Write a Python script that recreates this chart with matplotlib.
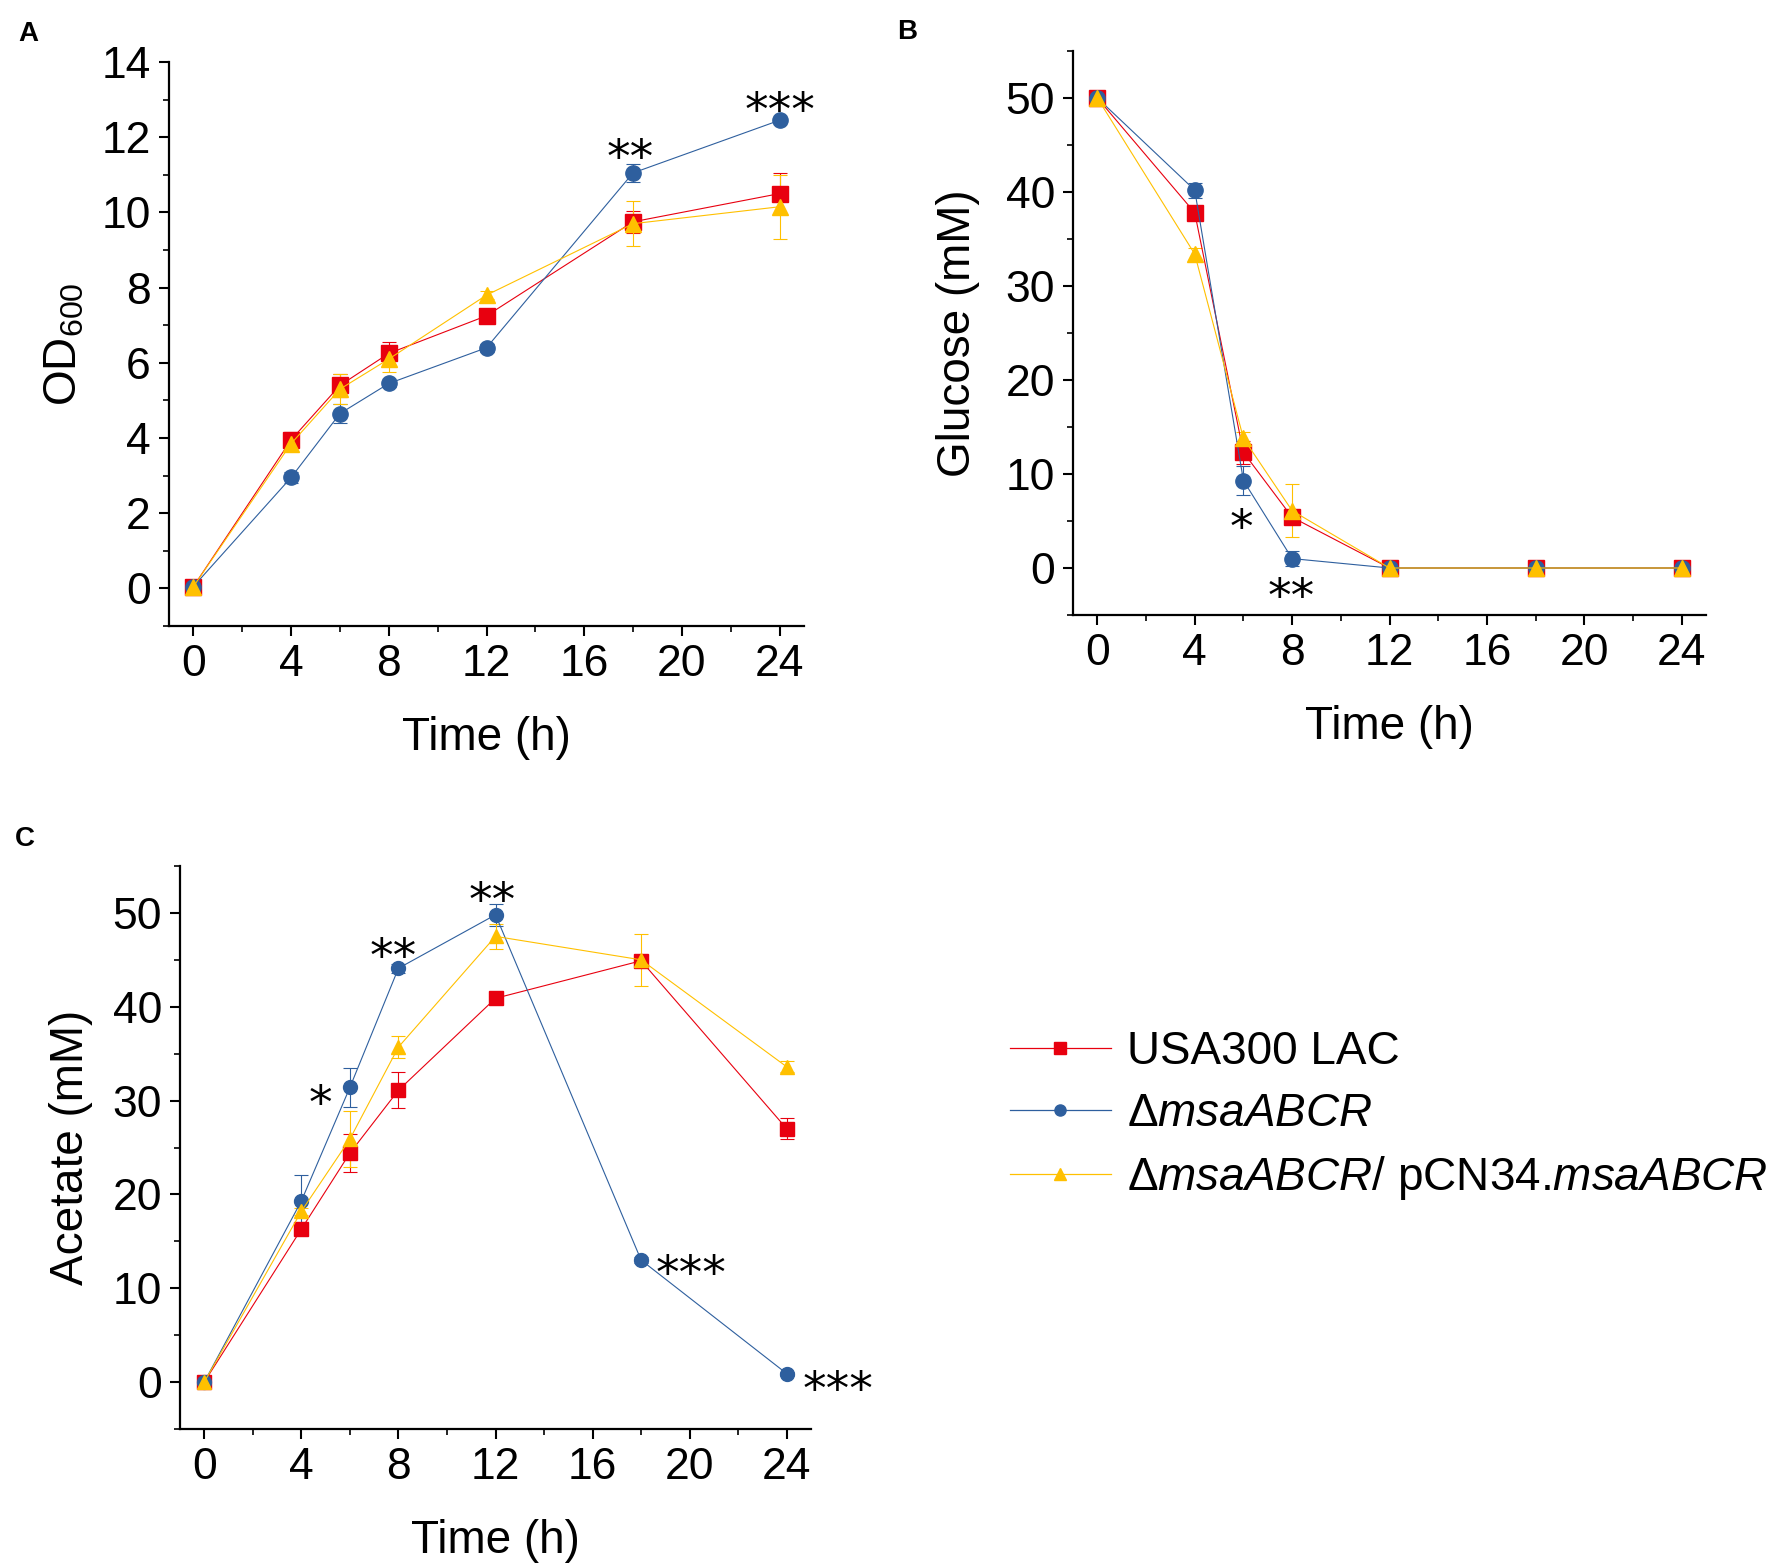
import matplotlib
matplotlib.use("Agg")
import matplotlib.pyplot as plt
from matplotlib.lines import Line2D
from matplotlib.ticker import MultipleLocator

plt.rcParams['font.family'] = ['Liberation Sans', 'DejaVu Sans']
plt.rcParams['mathtext.fontset'] = 'custom'
plt.rcParams['mathtext.rm'] = 'Liberation Sans'
plt.rcParams['mathtext.it'] = 'Liberation Sans:italic'

# sampling times (h)
time = [0, 4, 6, 8, 12, 18, 24]

# A: OD600
od_wt = [0.05, 3.95, 5.4, 6.25, 7.25, 9.75, 10.5]
od_wt_err = [0.05, 0.2, 0.3, 0.3, 0.1, 0.3, 0.55]
od_ko = [0.05, 2.95, 4.65, 5.45, 6.4, 11.05, 12.45]
od_ko_err = [0.05, 0.15, 0.25, 0.1, 0.1, 0.25, 0.05]
od_comp = [0.05, 3.85, 5.3, 6.1, 7.8, 9.7, 10.15]
od_comp_err = [0.05, 0.1, 0.4, 0.35, 0.1, 0.6, 0.85]

# B: glucose (mM)
glc_wt = [50, 37.8, 12.3, 5.4, 0, 0, 0]
glc_wt_err = [0.3, 0.7, 1.2, 0.5, 0.2, 0.2, 0.2]
glc_ko = [50, 40.2, 9.3, 1.0, 0, 0, 0]
glc_ko_err = [0.3, 0.8, 1.5, 0.8, 0.2, 0.2, 0.2]
glc_comp = [50, 33.4, 13.8, 6.1, 0, 0, 0]
glc_comp_err = [0.3, 0.6, 0.7, 2.8, 0.2, 0.2, 0.2]

# C: acetate (mM)
ac_wt = [0, 16.3, 24.4, 31.1, 40.9, 44.9, 27.0]
ac_wt_err = [0.3, 0.5, 2.0, 1.9, 0.3, 0.5, 1.1]
ac_ko = [0, 19.3, 31.4, 44.1, 49.8, 13.0, 0.9]
ac_ko_err = [0.3, 2.8, 2.1, 0.5, 1.2, 0.3, 0.2]
ac_comp = [0, 18.2, 25.9, 35.7, 47.5, 45.0, 33.6]
ac_comp_err = [0.3, 0.4, 3.0, 1.2, 1.3, 2.8, 0.6]

# significance marks: (x, y, text, alignment)
stars_a = [(17.9, 11.85, '**', 'center'), (24, 13.1, '***', 'center')]
stars_b = [(5.9, 5.9, '*', 'center'), (7.95, -1.5, '**', 'center')]
stars_c = [(4.8, 31.3, '*', 'center'), (7.8, 46.9, '**', 'center'),
           (11.85, 52.9, '**', 'center'), (18.6, 13.1, '***', 'left'),
           (24.65, 0.75, '***', 'left')]

labels = ['USA300 LAC', r'$\mathit{ΔmsaABCR}$',
          r'$\mathit{ΔmsaABCR}$/ pCN34.$\mathit{msaABCR}$']
colors = ['#E8000F', '#2E5F9E', '#FFC000']
markers = ['s', 'o', '^']

W, H = 1775, 1567
fig = plt.figure(figsize=(W / 100, H / 100), dpi=100)


def box(l, t, r, b):
    return [l / W, 1 - b / H, (r - l) / W, (b - t) / H]


def style(ax, ylim, ymaj, ymin):
    ax.set_xlim(-1, 25)
    ax.set_ylim(*ylim)
    ax.xaxis.set_major_locator(MultipleLocator(4))
    ax.xaxis.set_minor_locator(MultipleLocator(2))
    ax.yaxis.set_major_locator(MultipleLocator(ymaj))
    ax.yaxis.set_minor_locator(MultipleLocator(ymin))
    for s in ['top', 'right']:
        ax.spines[s].set_visible(False)
    for s in ['left', 'bottom']:
        ax.spines[s].set_linewidth(1.6)
    ax.tick_params(which='major', length=7, width=1.5, labelsize=32, pad=6)
    ax.tick_params(which='minor', length=4, width=1.2)
    ax.set_xlabel('Time (h)', fontsize=33, labelpad=22)


def draw(ax, series, ms):
    for (y, e), c, m in zip(series, colors, markers):
        ax.errorbar(time, y, yerr=e, color=c, marker=m, markersize=ms,
                    linewidth=0.8, elinewidth=0.8, capsize=5, capthick=0.8,
                    clip_on=False)


def stars(ax, marks):
    fs = 34
    for x, y, s, ha in marks:
        ax.annotate(s, (x, y), xytext=(0, -0.62 * fs), textcoords='offset points',
                    fontsize=fs, family='DejaVu Sans', ha=ha, va='baseline',
                    annotation_clip=False)


axA = fig.add_axes(box(169, 62, 804, 626))
draw(axA, [(od_wt, od_wt_err), (od_ko, od_ko_err), (od_comp, od_comp_err)], 11)
style(axA, (-1, 14), 2, 1)
axA.set_ylabel(r'OD$_{600}$', fontsize=33, labelpad=11)
stars(axA, stars_a)

axB = fig.add_axes(box(1073, 51, 1706, 615))
draw(axB, [(glc_wt, glc_wt_err), (glc_ko, glc_ko_err), (glc_comp, glc_comp_err)], 11)
style(axB, (-5, 55), 10, 5)
axB.set_ylabel('Glucose (mM)', fontsize=33, labelpad=18)
stars(axB, stars_b)

axC = fig.add_axes(box(180, 866, 811, 1429))
draw(axC, [(ac_wt, ac_wt_err), (ac_ko, ac_ko_err), (ac_comp, ac_comp_err)], 10)
style(axC, (-5, 55), 10, 5)
axC.set_ylabel('Acetate (mM)', fontsize=33, labelpad=14)
stars(axC, stars_c)

handles = [Line2D([], [], color=c, marker=m, markersize=8, linewidth=0.9)
           for c, m in zip(colors, markers)]
fig.legend(handles, labels, loc='center left', bbox_to_anchor=(1010 / W, 1 - 1116 / H),
           frameon=False, fontsize=33, handlelength=2.2, handletextpad=0.35,
           labelspacing=0.4, borderaxespad=0, borderpad=0)

fig.text(28 / W, 1 - 34 / H, 'A', fontsize=20, fontweight='bold', ha='center', va='center')
fig.text(907 / W, 1 - 32 / H, 'B', fontsize=20, fontweight='bold', ha='center', va='center')
fig.text(25 / W, 1 - 839 / H, 'C', fontsize=20, fontweight='bold', ha='center', va='center')

fig.savefig('out.png', dpi=100)
